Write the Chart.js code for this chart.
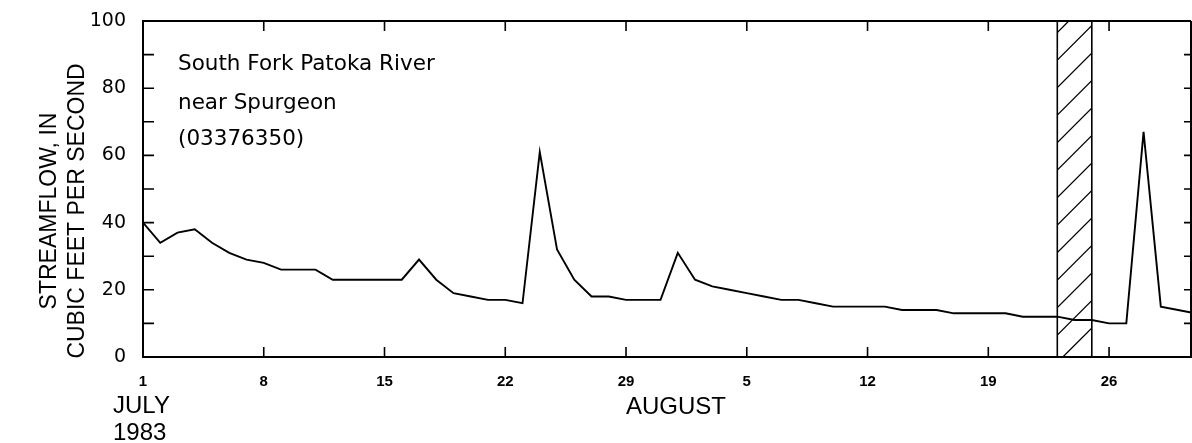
<!DOCTYPE html>
<html>
<head>
<meta charset="utf-8">
<script src="https://cdn.jsdelivr.net/npm/chart.js@4"></script>
<style>
  body { margin: 0; background: #fff; }
  canvas { display: block; }
</style>
</head>
<body>
<canvas id="graficoVazao" width="1192" height="443"></canvas>
<script>
// vazao diaria, 1 jul 1983 ate 31 ago 1983 (pes cubicos por segundo)
const vazao = [
  40, 34, 37, 38, 34, 31, 29, 28, 26, 26,
  26, 23, 23, 23, 23, 23, 29, 23, 19, 18,
  17, 17, 16, 61, 32, 23, 18, 18, 17, 17,
  17, 31, 23, 21, 20, 19, 18, 17, 17, 16,
  15, 15, 15, 15, 14, 14, 14, 13, 13, 13,
  13, 12, 12, 12, 11, 11, 10, 10, 67, 15,
  14, 13
];

const diasMarcados = [0, 7, 14, 21, 28, 35, 42, 49, 56];
const rotulosX = ["1", "8", "15", "22", "29", "5", "12", "19", "26"];
const rotulosY = [0, 20, 40, 60, 80, 100];
const marcasY = [0, 10, 20, 30, 40, 50, 60, 70, 80, 90, 100];

// periodo hachurado (indice do dia): 23 a 25 de agosto
const periodoHachurado = [53, 55];

const legendaEstacao = ["South Fork Patoka River", "near Spurgeon", "(03376350)"];
const tituloY = ["STREAMFLOW, IN", "CUBIC FEET PER SECOND"];

const pontos = vazao.map((v, i) => ({ x: i, y: v }));

const moldura = {
  id: "moldura",
  beforeDatasetsDraw(chart) {
    const { ctx, chartArea: a, scales } = chart;
    const x = scales.x;

    // faixa hachurada
    const x1 = x.getPixelForValue(periodoHachurado[0]);
    const x2 = x.getPixelForValue(periodoHachurado[1]);
    ctx.save();
    ctx.strokeStyle = "#000";
    ctx.lineWidth = 1.6;
    ctx.beginPath();
    ctx.moveTo(x1, a.top);
    ctx.lineTo(x1, a.bottom);
    ctx.moveTo(x2, a.top);
    ctx.lineTo(x2, a.bottom);
    ctx.stroke();

    ctx.beginPath();
    ctx.rect(x1, a.top, x2 - x1, a.bottom - a.top);
    ctx.clip();
    ctx.lineWidth = 1.3;
    const larg = x2 - x1;
    ctx.beginPath();
    for (let yy = a.bottom - 22 + 55; yy > a.top - 60; yy -= 27.5) {
      ctx.moveTo(x1, yy);
      ctx.lineTo(x1 + larg + 40, yy - larg - 40);
    }
    ctx.stroke();
    ctx.restore();
  },
  afterDraw(chart) {
    const { ctx, chartArea: a, scales } = chart;
    const x = scales.x;
    const y = scales.y;

    ctx.save();
    ctx.strokeStyle = "#000";
    ctx.lineWidth = 2;
    ctx.beginPath();
    ctx.moveTo(a.left, a.top);
    ctx.lineTo(a.right, a.top);
    ctx.moveTo(a.right, a.top);
    ctx.lineTo(a.right, a.bottom);
    ctx.stroke();

    // marcas internas
    ctx.lineWidth = 1.6;
    ctx.beginPath();
    diasMarcados.forEach(d => {
      const px = x.getPixelForValue(d);
      ctx.moveTo(px, a.bottom);
      ctx.lineTo(px, a.bottom - 10);
      ctx.moveTo(px, a.top);
      ctx.lineTo(px, a.top + 10);
    });
    marcasY.forEach(v => {
      const py = y.getPixelForValue(v);
      ctx.moveTo(a.left, py);
      ctx.lineTo(a.left + 11, py);
      ctx.moveTo(a.right, py);
      ctx.lineTo(a.right - 7, py);
    });
    ctx.stroke();

    ctx.fillStyle = "#000";

    // nome da estacao
    ctx.font = "21.5px 'DejaVu Sans'";
    ctx.textAlign = "left";
    ctx.textBaseline = "alphabetic";
    const linhas = [70, 109, 145];
    legendaEstacao.forEach((t, i) => ctx.fillText(t, 178, linhas[i]));

    // meses e ano
    ctx.font = "24px 'Liberation Sans'";
    ctx.fillText("JULY", 113, 413);
    ctx.fillText("1983", 113, 440);
    ctx.textAlign = "center";
    ctx.fillText("AUGUST", 676, 414);

    // titulo do eixo y
    ctx.font = "23px 'Liberation Sans'";
    ctx.textBaseline = "middle";
    ctx.translate(0, 211);
    ctx.rotate(-Math.PI / 2);
    ctx.fillText(tituloY[0], 0, 50);
    ctx.fillText(tituloY[1], 0, 78);
    ctx.restore();
  }
};

function criarGrafico() {
  const canvas = document.getElementById("graficoVazao");

  return new Chart(canvas, {
    type: "line",
    data: {
      datasets: [
        {
          data: pontos,
          borderColor: "#000",
          borderWidth: 1.9,
          pointRadius: 0,
          tension: 0,
          fill: false
        }
      ]
    },
    options: {
      responsive: false,
      animation: false,
      devicePixelRatio: 1,
      layout: { padding: { top: 21, right: 1, left: 0, bottom: 0 } },
      plugins: {
        legend: { display: false },
        tooltip: { enabled: false }
      },
      scales: {
        x: {
          type: "linear",
          min: 0,
          max: 60.75,
          afterBuildTicks: scale => {
            scale.ticks = diasMarcados.map(v => ({ value: v }));
          },
          afterFit: scale => {
            scale.height = 86;
            scale.paddingLeft = 0;
            scale.paddingRight = 0;
          },
          grid: { display: false, drawTicks: false },
          border: { display: true, color: "#000", width: 2 },
          ticks: {
            color: "#000",
            padding: 16,
            maxRotation: 0,
            autoSkip: false,
            font: { family: "'Liberation Sans'", size: 15, weight: "bold" },
            callback: (v) => rotulosX[diasMarcados.indexOf(v)]
          }
        },
        y: {
          min: 0,
          max: 100,
          afterBuildTicks: scale => {
            scale.ticks = rotulosY.map(v => ({ value: v }));
          },
          afterFit: scale => {
            scale.width = 143;
            scale.paddingTop = 0;
            scale.paddingBottom = 0;
          },
          grid: { display: false, drawTicks: false },
          border: { display: true, color: "#000", width: 2 },
          ticks: {
            color: "#000",
            padding: 17,
            font: { family: "'DejaVu Sans'", size: 19 }
          }
        }
      }
    },
    plugins: [moldura]
  });
}

criarGrafico();
</script>
</body>
</html>
